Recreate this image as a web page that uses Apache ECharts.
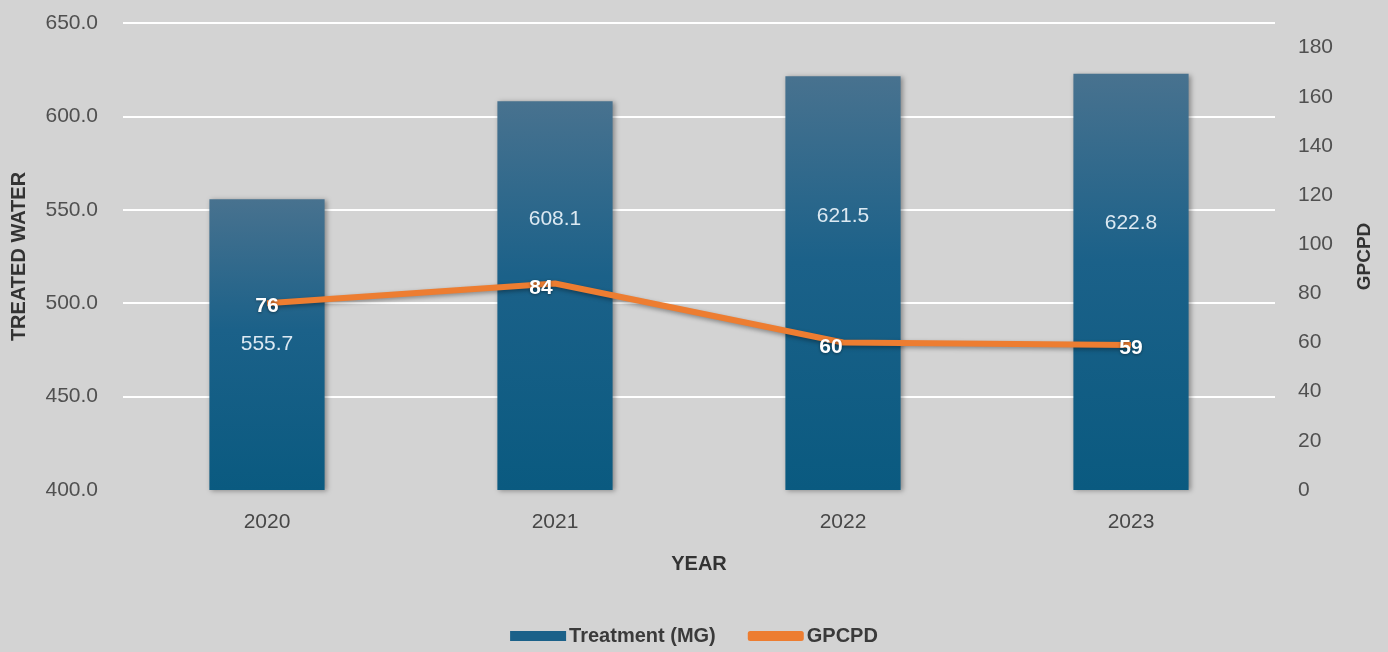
<!DOCTYPE html>
<html>
<head>
<meta charset="utf-8">
<script src="https://cdn.jsdelivr.net/npm/echarts@6/dist/echarts.min.js"></script>
<style>
html,body{margin:0;padding:0;background:#d3d3d3;}
#chart{width:1388px;height:652px;}
</style>
</head>
<body>
<div id="chart"></div>
<script>
// ---- data ----
var years = ['2020', '2021', '2022', '2023'];
var treatment = [555.7, 608.1, 621.5, 622.8];
var gpcpd = [76, 84, 60, 59];
var leftTicks = { min: 400, max: 650, interval: 50 };
var rightTicks = { min: 0, max: 190, interval: 20 };

// ---- label placement styling (not data) ----
var barLabelShift = [[0, 0], [0, -76], [0, -67], [0, -59]];
var lineLabelShift = [[0, 3], [-14, 5], [-12, 5], [0, 3]];

var chart = echarts.init(document.getElementById('chart'));
var FONT = 'Liberation Sans, Arial, sans-serif';

var barData = treatment.map(function (v, i) {
  return { value: v, label: { offset: barLabelShift[i] } };
});
var lineData = gpcpd.map(function (v, i) {
  return { value: v, label: { offset: lineLabelShift[i] } };
});

var option = {
  backgroundColor: '#d3d3d3',
  animation: false,
  grid: { left: 123, right: 113, top: 23, bottom: 162 },
  legend: {
    bottom: 1,
    left: 'center',
    itemWidth: 56,
    itemHeight: 10,
    itemGap: 32,
    textStyle: { fontFamily: FONT, fontSize: 20, fontWeight: 'bold', color: '#3a3a3a', padding: [0, 0, 0, -2] },
    data: [
      { name: 'Treatment (MG)', icon: 'rect', itemStyle: { color: '#1b6189' } },
      { name: 'GPCPD', icon: 'roundRect', itemStyle: { color: '#ed7d31', borderWidth: 0 }, lineStyle: { width: 0 } }
    ]
  },
  xAxis: {
    type: 'category',
    data: years,
    axisLine: { show: false },
    axisTick: { show: false },
    axisLabel: { fontFamily: FONT, fontSize: 21, color: '#474747', margin: 22 },
    name: 'YEAR',
    nameLocation: 'middle',
    nameGap: 64,
    nameTextStyle: { fontFamily: FONT, fontSize: 20, fontWeight: 'bold', color: '#333333' }
  },
  yAxis: [
    {
      type: 'value',
      min: leftTicks.min,
      max: leftTicks.max,
      interval: leftTicks.interval,
      axisLine: { show: false },
      axisTick: { show: false },
      axisLabel: {
        fontFamily: FONT, fontSize: 21, color: '#505050', margin: 25,
        formatter: function (v) { return v.toFixed(1); }
      },
      splitLine: {
        show: true,
        lineStyle: { color: ['rgba(0,0,0,0)', '#ffffff', '#ffffff', '#ffffff', '#ffffff', '#ffffff'], width: 2 }
      },
      name: 'TREATED WATER',
      nameLocation: 'middle',
      nameGap: 94,
      nameRotate: 90,
      nameTextStyle: { fontFamily: FONT, fontSize: 20, fontWeight: 'bold', color: '#333333' }
    },
    {
      type: 'value',
      min: rightTicks.min,
      max: rightTicks.max,
      interval: rightTicks.interval,
      position: 'right',
      axisLine: { show: false },
      axisTick: { show: false },
      splitLine: { show: false },
      axisLabel: { fontFamily: FONT, fontSize: 21, color: '#505050', margin: 23, showMaxLabel: false },
      name: 'GPCPD',
      nameLocation: 'middle',
      nameGap: 80,
      nameRotate: 90,
      nameTextStyle: { fontFamily: FONT, fontSize: 19, fontWeight: 'bold', color: '#333333' }
    }
  ],
  series: [
    {
      name: 'Treatment (MG)',
      type: 'bar',
      yAxisIndex: 0,
      barWidth: '40%',
      data: barData,
      itemStyle: {
        color: new echarts.graphic.LinearGradient(0, 0, 0, 1, [
          { offset: 0, color: '#48728f' },
          { offset: 0.45, color: '#1b6189' },
          { offset: 1, color: '#0a5a80' }
        ]),
        shadowColor: 'rgba(0,0,0,0.35)',
        shadowBlur: 5,
        shadowOffsetX: 2,
        shadowOffsetY: 1
      },
      label: {
        show: true,
        position: 'inside',
        fontFamily: FONT,
        fontSize: 21,
        color: '#dce9f2',
        formatter: function (p) { return p.value.toFixed(1); }
      },
      z: 2
    },
    {
      name: 'GPCPD',
      type: 'line',
      yAxisIndex: 1,
      data: lineData,
      symbol: 'circle',
      symbolSize: 0.1,
      showSymbol: true,
      lineStyle: {
        color: '#ed7d31',
        width: 6,
        shadowColor: 'rgba(0,0,0,0.35)',
        shadowBlur: 4,
        shadowOffsetY: 2
      },
      itemStyle: { color: '#ed7d31' },
      label: {
        show: true,
        position: 'inside',
        fontFamily: FONT,
        fontSize: 21,
        fontWeight: 'bold',
        color: '#ffffff',
        textShadowColor: 'rgba(0,0,0,0.4)',
        textShadowBlur: 3,
        textShadowOffsetY: 1
      },
      z: 3
    }
  ]
};
chart.setOption(option);
</script>
</body>
</html>
